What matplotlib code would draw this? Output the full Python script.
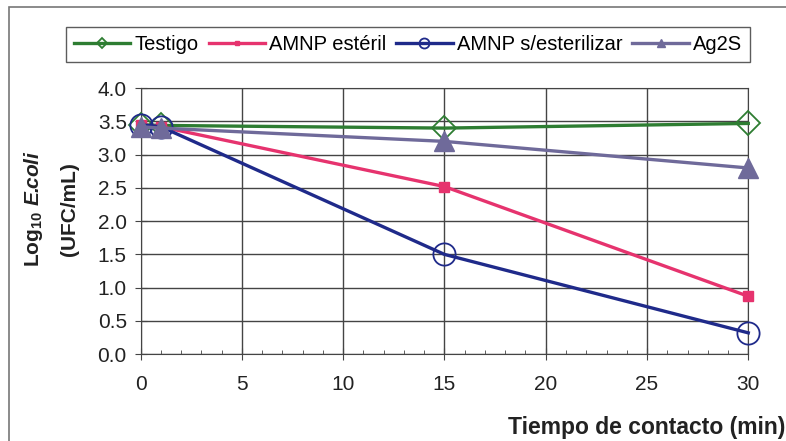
import matplotlib.pyplot as plt
from matplotlib.patches import Rectangle
from matplotlib.ticker import MultipleLocator

plt.rcParams['font.family'] = ['Liberation Sans', 'DejaVu Sans']
plt.rcParams['mathtext.fontset'] = 'custom'
plt.rcParams['mathtext.rm'] = 'Liberation Sans'
plt.rcParams['mathtext.bf'] = 'Liberation Sans:bold'
plt.rcParams['mathtext.it'] = 'Liberation Sans:italic'
plt.rcParams['mathtext.bfit'] = 'Liberation Sans:bold:italic'

tiempo = [0, 1, 15, 30]
testigo = [3.45, 3.44, 3.40, 3.47]
amnp_esteril = [3.45, 3.42, 2.52, 0.87]
amnp_sin = [3.45, 3.42, 1.50, 0.32]
ag2s = [3.42, 3.40, 3.20, 2.80]

fig = plt.figure(figsize=(7.86, 4.41), dpi=100)
ax = fig.add_axes([0.179, 0.197, 0.773, 0.603])

ax.plot(tiempo, testigo, color='#2e7d32', lw=2.4, marker='D', ms=12,
        mfc='none', mec='#2e7d32', mew=1.3, label='Testigo', clip_on=False, zorder=3)
ax.plot(tiempo, amnp_esteril, color='#e6336e', lw=2.4, marker='s', ms=7,
        mfc='#e6336e', mec='#e6336e', label='AMNP estéril', clip_on=False, zorder=3)
ax.plot(tiempo, amnp_sin, color='#1f2a8a', lw=2.4, marker='o', ms=16,
        mfc='none', mec='#1f2a8a', mew=1.3, label='AMNP s/esterilizar', clip_on=False, zorder=3)
ax.plot(tiempo, ag2s, color='#6f6a9a', lw=2.4, marker='^', ms=14,
        mfc='#6f6a9a', mec='#6f6a9a', label='Ag2S', clip_on=False, zorder=3)

ax.set_xlim(0, 30)
ax.set_ylim(0, 4.0)
ax.xaxis.set_major_locator(MultipleLocator(5))
ax.xaxis.set_minor_locator(MultipleLocator(1))
ax.yaxis.set_major_locator(MultipleLocator(0.5))
ax.yaxis.set_major_formatter(plt.FormatStrFormatter('%.1f'))
ax.grid(True, color='#444444', lw=1.0)
ax.set_axisbelow(True)
ax.tick_params(axis='both', labelsize=15, direction='inout', length=8,
               color='#444444', labelcolor='#222222')
ax.tick_params(axis='x', pad=11)
ax.tick_params(axis='y', pad=6)
ax.tick_params(axis='x', which='minor', direction='in', length=3, color='#444444')
for s in ax.spines.values():
    s.set_color('#444444')

fig.text(0.042, 0.526, r'Log$_{\mathbf{10}}$ $\bfit{E.\!\!coli}$', rotation=90,
         ha='center', va='center', fontsize=15, fontweight='bold', color='#222222')
fig.text(0.089, 0.526, '(UFC/mL)', rotation=90,
         ha='center', va='center', fontsize=15, fontweight='bold', color='#222222')
fig.text(0.646, 0.03, 'Tiempo de contacto (min)', ha='left', va='center',
         fontsize=16.5, fontweight='bold', color='#222222')

fig.legend(loc='upper center', bbox_to_anchor=(0.519, 0.962), ncol=4,
           fontsize=14.5, frameon=True, fancybox=False, edgecolor='#333333',
           handlelength=2.8, handletextpad=0.2, columnspacing=0.5,
           borderpad=0.4, markerscale=0.45)

fig.patches.append(Rectangle((0.011, -0.02), 1.1, 1.004, transform=fig.transFigure,
                             fill=False, edgecolor='#777777', lw=1.2))

fig.savefig('out.png', dpi=100)
